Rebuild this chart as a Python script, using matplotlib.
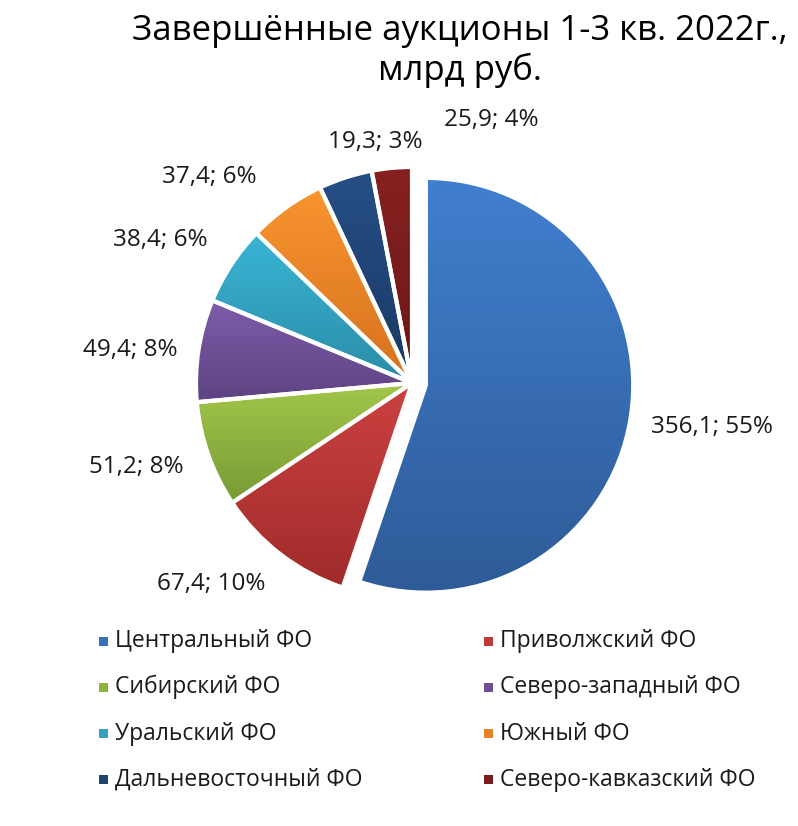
import matplotlib
matplotlib.use('Agg')
import matplotlib.pyplot as plt
import numpy as np
from matplotlib.colors import to_rgb
from matplotlib.patches import Rectangle

plt.rcParams['font.family'] = ['Open Sans', 'DejaVu Sans']

# data
regions = ['Центральный ФО', 'Приволжский ФО', 'Сибирский ФО', 'Северо-западный ФО',
           'Уральский ФО', 'Южный ФО', 'Дальневосточный ФО', 'Северо-кавказский ФО']
values = [356.1, 67.4, 51.2, 49.4, 38.4, 37.4, 25.9, 19.3]
pct_labels = ['55%', '10%', '8%', '8%', '6%', '6%', '4%', '3%']
title = 'Завершённые аукционы 1-3 кв. 2022г.,\nмлрд руб.'

# gradient colours (top, bottom) per slice
top_colors = ['#417fcf', '#cc4240', '#a2c74a', '#7f5ca9', '#3ab5d5', '#f8952f', '#264f86', '#872121']
bot_colors = ['#2e5b97', '#a02b2b', '#789a35', '#5d4383', '#2a8ca7', '#d6711f', '#1a3963', '#6a1717']
mid_colors = ['#3a70b8', '#bd3a38', '#8fb340', '#6e4f96', '#32a2c0', '#e98227', '#21446f', '#781c1c']

W, H = 798, 826
fig = plt.figure(figsize=(W / 100, H / 100), dpi=100)

# pie axes, centre / radius in pixels
cx, cy, R = 412, 383, 216
half = R * 1.1
ax = fig.add_axes([(cx - half) / W, (H - cy - half) / H, 2 * half / W, 2 * half / H])

wedges, _ = ax.pie(values, startangle=90, counterclock=False, radius=1,
                   explode=[0.065, 0, 0, 0, 0, 0, 0, 0],
                   wedgeprops=dict(edgecolor='white', linewidth=3))
wedges[0].set_radius(0.96)

for w, c1, c2 in zip(wedges, top_colors, bot_colors):
    w.set_facecolor('none')
    w.set_zorder(3)
    x0, y0, x1, y1 = w.get_path().get_extents().extents
    t = np.linspace(0, 1, 256)[:, None, None]
    img = (1 - t) * np.array(to_rgb(c1)) + t * np.array(to_rgb(c2))
    im = ax.imshow(img, extent=(x0, x1, y0, y1), origin='upper', aspect='auto', zorder=2)
    im.set_clip_path(w)

ax.set_xlim(-1.1, 1.1)
ax.set_ylim(-1.1, 1.1)
ax.set_aspect('equal')
ax.axis('off')

# data labels (pixel centres, placed like the original)
label_pos = [(712, 427), (211, 584), (136, 467), (130, 350),
             (160, 240), (209, 177), (491, 120), (375, 142)]
for v, p, (x, y) in zip(values, pct_labels, label_pos):
    txt = ('%.1f' % v).replace('.', ',') + '; ' + p
    fig.text(x / W, 1 - y / H, txt, ha='center', va='center', fontsize=17.5, color='#1a1a1a')

# title
fig.text(460 / W, 1 - 51 / H, title, ha='center', va='center', fontsize=25,
         color='black', linespacing=1.17)

# legend, filled row by row
sq = 9
for i, (name, col) in enumerate(zip(regions, mid_colors)):
    x = [103, 488][i % 2]
    y = 641 + (i // 2) * 46.3
    fig.add_artist(Rectangle(((x - sq / 2) / W, 1 - (y + sq / 2) / H), sq / W, sq / H,
                             transform=fig.transFigure, facecolor=col, edgecolor='none'))
    fig.text((x + 12) / W, 1 - y / H, name, ha='left', va='center', fontsize=16.5,
             color='#1a1a1a')

fig.savefig('out.png', dpi=100)
